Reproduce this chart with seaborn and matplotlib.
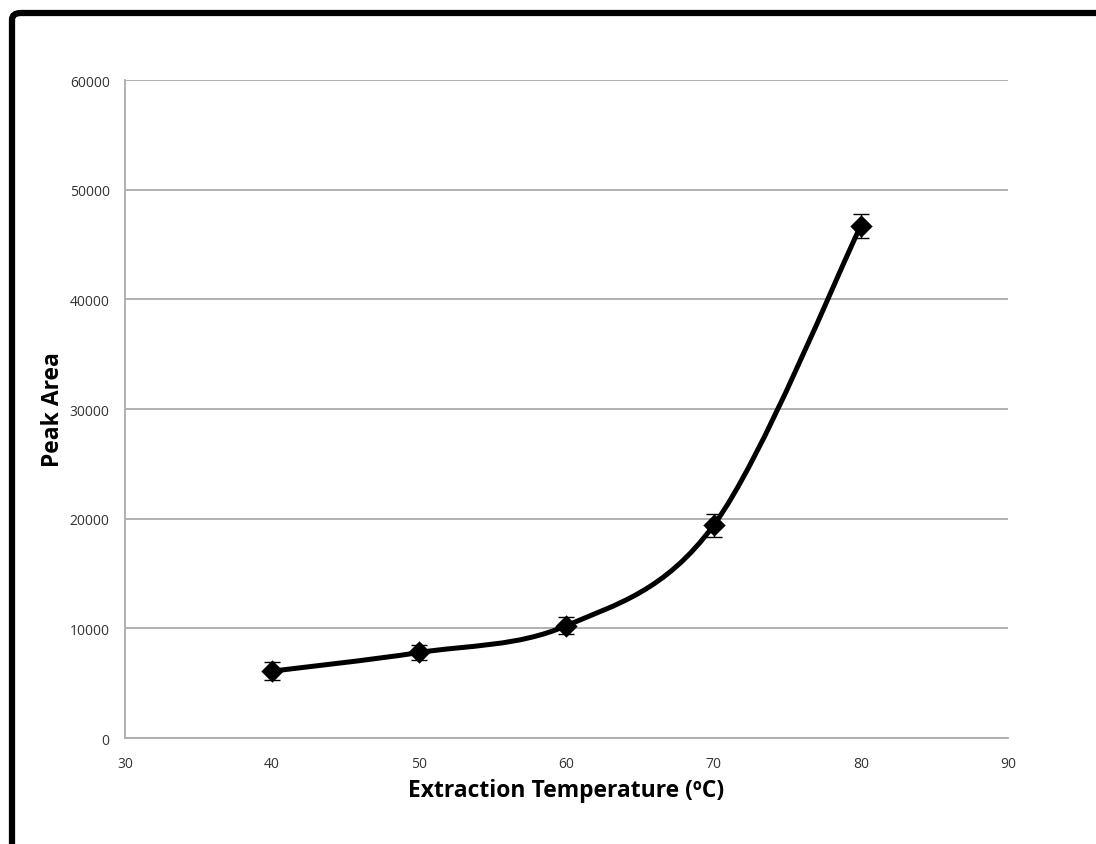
import matplotlib.pyplot as plt
import seaborn as sns
import numpy as np
import pandas as pd
from matplotlib.path import Path
from matplotlib.patches import PathPatch, FancyBboxPatch

sns.set_style("white")
plt.rcParams['font.family'] = ['Open Sans', 'DejaVu Sans']

# Data
temperature = [40, 50, 60, 70, 80]
peak_area = [6100, 7800, 10250, 19400, 46700]
peak_err = [800, 680, 800, 1050, 1100]

df = pd.DataFrame({'Temperature': temperature, 'Peak Area': peak_area, 'Err': peak_err})

fig = plt.figure(figsize=(10.96, 8.45), dpi=100)
ax = fig.add_axes([0.114, 0.1254, 0.8057, 0.7787])

grid_col = '#ababab'

# Excel-style smoothed line: cubic Bezier segments (Catmull-Rom control points)
pts = np.column_stack([df['Temperature'], df['Peak Area']]).astype(float)
verts = [pts[0]]
codes = [Path.MOVETO]
n = len(pts)
for i in range(n - 1):
    p0 = pts[i - 1] if i > 0 else pts[i]
    p1 = pts[i]
    p2 = pts[i + 1]
    p3 = pts[i + 2] if i + 2 < n else pts[i + 1]
    c1 = p1 + (p2 - p0) / 6.0
    c2 = p2 - (p3 - p1) / 6.0
    verts += [c1, c2, p2]
    codes += [Path.CURVE4] * 3
ax.add_patch(PathPatch(Path(verts, codes), facecolor='none', edgecolor='black',
                       lw=3.6, capstyle='round', joinstyle='round', zorder=3))

# Error bars and markers
ax.errorbar(df['Temperature'], df['Peak Area'], yerr=df['Err'], fmt='none',
            ecolor='black', elinewidth=1.0, capsize=6, capthick=1.0, zorder=4)
sns.scatterplot(data=df, x='Temperature', y='Peak Area', marker='D', s=130,
                color='black', edgecolor='black', linewidth=0, ax=ax, zorder=5)

ax.set_xlim(30, 90)
ax.set_ylim(0, 60000)
ax.set_xticks(range(30, 91, 10))
ax.set_yticks(range(0, 60001, 10000))
ax.yaxis.grid(True, color=grid_col, linewidth=1.3)
ax.xaxis.grid(False)
ax.set_axisbelow(True)

for side in ['top', 'right']:
    ax.spines[side].set_visible(False)
for side in ['left', 'bottom']:
    ax.spines[side].set_color(grid_col)
    ax.spines[side].set_linewidth(1.3)

ax.tick_params(axis='both', direction='out', length=5, width=1.3, color=grid_col,
               labelsize=10, labelcolor='#333333', pad=6)
ax.tick_params(axis='x', pad=8)

ax.set_xlabel('Extraction Temperature (ºC)', fontsize=16.5, fontweight='bold',
              color='black', labelpad=5)
ax.set_ylabel('Peak Area', fontsize=16.5, fontweight='bold', color='black', labelpad=3)

# Outer frame of the chart area
frame = FancyBboxPatch((12 / 1096, -0.2), 1.3, (845 - 14) / 845 + 0.2,
                       boxstyle='round,pad=0,rounding_size=0.008',
                       transform=fig.transFigure, facecolor='none',
                       edgecolor='black', linewidth=4.5, clip_on=False)
fig.patches.append(frame)

plt.savefig('out.png', dpi=100)
